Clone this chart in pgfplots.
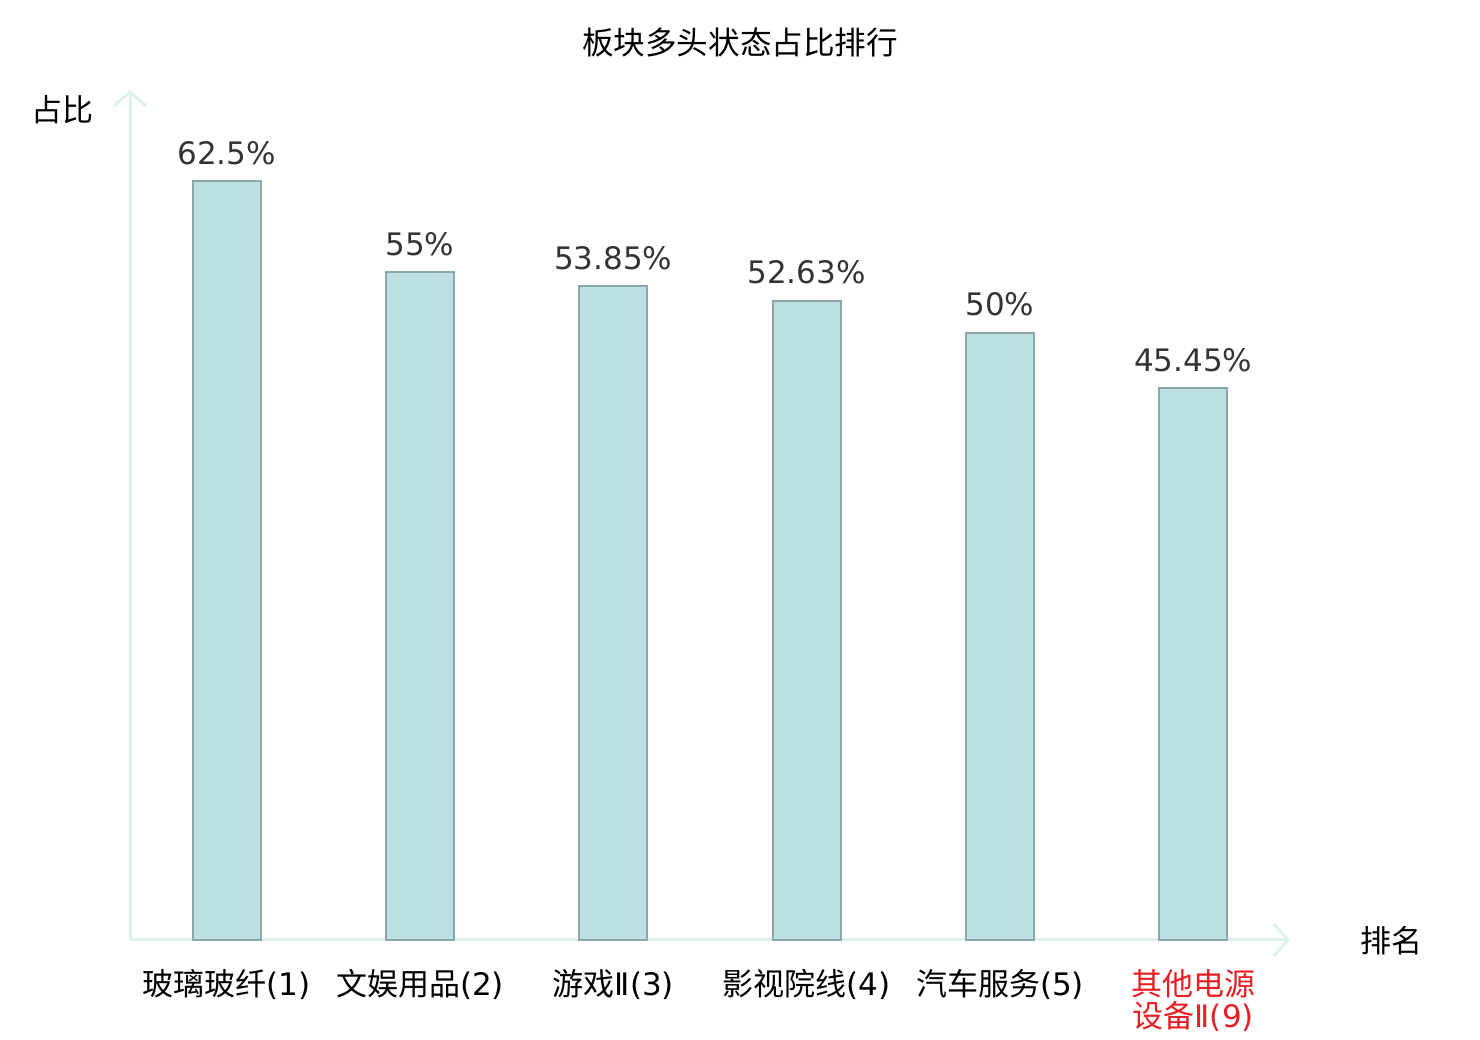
\documentclass[border=0pt]{standalone}
\usepackage{fontspec}
\setmainfont{DejaVu Sans}
\newfontfamily\cjk{Noto Sans CJK SC}
\usepackage{pgfplots}
\pgfplotsset{compat=1.18}
\usetikzlibrary{arrows.meta}
\definecolor{barfill}{HTML}{BCE0E3}
\definecolor{baredge}{HTML}{8AA8AA}
\definecolor{axcol}{HTML}{DDF1EF}
\definecolor{lblcol}{HTML}{333333}
\definecolor{redlbl}{HTML}{E81E25}
\newcommand{\lt}[1]{{\rmfamily #1}}
\begin{document}
\begin{tikzpicture}
\useasboundingbox (0,0) rectangle (740pt,520pt);
\begin{axis}[
  at={(65pt,50pt)}, anchor=south west,
  scale only axis, width=580pt, height=425pt,
  xmin=-0.5, xmax=5.5, ymin=0, ymax=70,
  axis lines=left,
  axis line style={draw=axcol, line width=1.5pt, -{Straight Barb[length=7pt,width=16pt,line width=1.5pt]}},
  ytick=\empty,
  xtick=data,
  major tick length=0pt,
  xticklabels={{玻璃玻纤\lt{(1)}},{文娱用品\lt{(2)}},{游戏\lt{Ⅱ(3)}},{影视院线\lt{(4)}},{汽车服务\lt{(5)}},{\color{redlbl}其他电源\\\color{redlbl}设备\lt{Ⅱ(9)}}},
  xticklabel style={font=\cjk\fontsize{15.5pt}{16pt}\selectfont, align=center, anchor=north, inner sep=0pt, yshift=-14.5pt, text=black},
  ybar, bar width=34pt,
  nodes near coords,
  point meta=explicit symbolic,
  every node near coord/.append style={font=\fontsize{15.5pt}{18pt}\selectfont, text=lblcol, anchor=base, inner sep=0pt, yshift=8.5pt},
  clip=false,
]
\addplot[fill=barfill, draw=baredge, line width=1pt] coordinates {
  (0,62.5) [62.5\%]
  (1,55) [55\%]
  (2,53.85) [53.85\%]
  (3,52.63) [52.63\%]
  (4,50) [50\%]
  (5,45.45) [45.45\%]
};
\end{axis}
\node[font=\cjk\fontsize{15.8pt}{18pt}\selectfont] at (370pt,499pt) {板块多头状态占比排行};
\node[font=\cjk\fontsize{15.5pt}{18pt}\selectfont] at (31.5pt,465pt) {占比};
\node[font=\cjk\fontsize{15.5pt}{18pt}\selectfont] at (695.5pt,49.5pt) {排名};
\end{tikzpicture}
\end{document}
